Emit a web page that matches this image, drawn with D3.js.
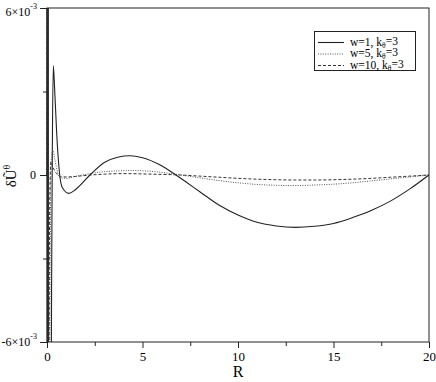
<!DOCTYPE html>
<html><head><meta charset="utf-8">
<script src="https://d3js.org/d3.v7.min.js"></script>
<style>body{margin:0;background:#fff}svg{display:block}text{font-family:"Liberation Serif","Times New Roman",Times,serif;fill:#000}</style>
</head><body><svg id="c" width="436" height="382"></svg>
<script>
// Data (y axis spans -6e-3..6e-3)
const seriesNames = ["w=1, k", "w=5, k", "w=10, k"];
const xTicks = [0, 5, 10, 15, 20];
const R1 = [0, 0.008, 0.02, 0.035, 0.05, 0.065, 0.08, 0.1, 0.2, 0.24, 0.28, 0.33, 0.4, 0.5, 0.65, 0.8, 1.15, 1.5, 2.25, 3, 3.7, 4.35, 5, 6, 6.75, 8, 9, 10, 11, 12, 13, 14, 15, 16, 17, 18, 19, 20];
const V1 = [0, 0.02, -0.02, 0.02, -0.02, 0.02, -0.02, -0.02, -0.012, -0.004, 0.001, 0.00393, 0.0031, 0.0016, 0.0001, -0.00045, -0.00066, -0.00052, 0, 0.00045, 0.00064, 0.00069, 0.00062, 0.00033, 0, -0.0006, -0.00108, -0.00144, -0.0017, -0.00183, -0.00188, -0.00184, -0.00174, -0.00153, -0.00127, -0.00093, -0.0005, 0];
const R2 = [0, 0.02, 0.05, 0.1, 0.16, 0.22, 0.3, 0.4, 0.55, 0.7, 1, 1.5, 2.25, 3, 4.5, 5.5, 7, 8, 9, 10, 11, 12, 13, 14, 15, 16, 17, 18, 19, 20];
const V2 = [0, 0.015, -0.015, -0.012, -0.004, 0.0005, 0.0009, 0.0006, 0.0001, -0.0001, -0.00012, -0.00005, 0.00005, 0.00012, 0.00016, 0.00013, 0, -0.0001, -0.0002, -0.00028, -0.00034, -0.00037, -0.00038, -0.00036, -0.00033, -0.00028, -0.00021, -0.00014, -0.00007, 0];
const R3 = [0, 0.015, 0.04, 0.08, 0.13, 0.2, 0.3, 0.5, 0.7, 1, 1.5, 2.3, 3, 4, 5.5, 7, 8, 9, 10, 11, 12, 13, 14, 15, 16, 17, 18, 19, 20];
const V3 = [0, 0.015, -0.015, -0.012, -0.002, 0.00048, 0.0003, 0.00005, -0.00006, -0.00007, -0.00005, 0, 0.00003, 0.00005, 0.00003, 0, -0.00004, -0.00008, -0.00012, -0.00015, -0.00017, -0.00018, -0.00018, -0.00017, -0.00015, -0.00012, -0.00008, -0.00004, 0];

const svg = d3.select("#c");
const L = 47, Rt = 429, T = 8, B = 342;
const x = d3.scaleLinear().domain([0, 20]).range([L, Rt]);
const y = d3.scaleLinear().domain([-0.006, 0.006]).range([B, T]);

svg.append("clipPath").attr("id", "clip").append("rect")
  .attr("x", L - 1).attr("y", T).attr("width", Rt - L + 1).attr("height", B - T);

const line = d3.line().x(d => x(d[0])).y(d => y(d[1])).curve(d3.curveMonotoneX);
const styles = [
  {R: R1, V: V1, dash: null, color: "#222", w: 1.1},
  {R: R2, V: V2, dash: "1,1.4", color: "#555", w: 1},
  {R: R3, V: V3, dash: "3,2", color: "#333", w: 1}
];
const g = svg.append("g").attr("clip-path", "url(#clip)");
styles.forEach(s => {
  g.append("path").datum(s.R.map((r, i) => [r, s.V[i]]))
    .attr("d", line).attr("fill", "none").attr("stroke", s.color)
    .attr("stroke-width", s.w).attr("stroke-dasharray", s.dash);
});

// frame
svg.append("rect").attr("x", L).attr("y", T).attr("width", Rt - L).attr("height", B - T)
  .attr("fill", "none").attr("stroke", "#222").attr("stroke-width", 1);

// x axis
const xa = svg.append("g").attr("transform", `translate(0,${B})`)
  .call(d3.axisBottom(x).tickValues(xTicks).tickSize(6).tickSizeOuter(0).tickFormat(d3.format("d")));
xa.select(".domain").remove();
xa.selectAll("line").attr("stroke", "#222");
xa.selectAll("text").attr("font-size", 13).attr("dy", "0.9em").attr("y", 7);
xa.attr("font-family", null);
const xm = svg.append("g").attr("transform", `translate(0,${B})`)
  .call(d3.axisBottom(x).tickValues([2.5, 7.5, 12.5, 17.5]).tickSize(4).tickFormat(""));
xm.select(".domain").remove();
xm.selectAll("line").attr("stroke", "#222");

// y axis
const ya = svg.append("g").attr("transform", `translate(${L},0)`)
  .call(d3.axisLeft(y).tickValues([-0.006, 0, 0.006]).tickSize(7).tickFormat(""));
ya.select(".domain").remove();
ya.selectAll("line").attr("stroke", "#222");
const ym = svg.append("g").attr("transform", `translate(${L},0)`)
  .call(d3.axisLeft(y).tickValues([-0.003, 0.003]).tickSize(4).tickFormat(""));
ym.select(".domain").remove();
ym.selectAll("line").attr("stroke", "#222");

function sciLabel(v, yy) {
  const t = svg.append("text").attr("x", 37).attr("y", yy).attr("text-anchor", "end").attr("font-size", 12);
  if (v === 0) { t.attr("x", 36).attr("dy", "0.35em").text("0"); return; }
  t.attr("dy", "0.4em");
  t.append("tspan").text((v < 0 ? "-" : "") + "6\u00d710");
  t.append("tspan").attr("font-size", 8).attr("dy", "-0.8em").text("-3");
}
sciLabel(0.006, y(0.006) + 3);
sciLabel(0, y(0));
sciLabel(-0.006, y(-0.006) - 1);

// axis titles
svg.append("text").attr("x", x(10)).attr("y", 377).attr("text-anchor", "middle").attr("font-size", 16).text("R");
const yt = svg.append("text").attr("transform", `translate(16,${y(0) + 1}) rotate(-90)`)
  .attr("text-anchor", "middle").attr("font-size", 15);
yt.append("tspan").text("\u03b4\u0168");
yt.append("tspan").attr("font-size", 10).attr("dy", "-0.6em").text("\u03b8");

// legend
const lg = svg.append("g");
lg.append("rect").attr("x", 314.5).attr("y", 31.5).attr("width", 101).attr("height", 39)
  .attr("fill", "#fff").attr("stroke", "#222").attr("stroke-width", 1);
const rowY = [42.5, 54, 65.5];
styles.forEach((s, i) => {
  lg.append("line").attr("x1", 318).attr("x2", 344).attr("y1", rowY[i]).attr("y2", rowY[i])
    .attr("stroke", s.color).attr("stroke-width", s.w).attr("stroke-dasharray", s.dash);
  const t = lg.append("text").attr("x", 350).attr("y", rowY[i]).attr("dy", "0.3em").attr("font-size", 11.5);
  t.append("tspan").text(seriesNames[i]);
  t.append("tspan").attr("font-size", 7.5).attr("dy", "0.25em").text("\u03b8");
  t.append("tspan").attr("dy", "-0.25em").text("=3");
});
</script></body></html>
